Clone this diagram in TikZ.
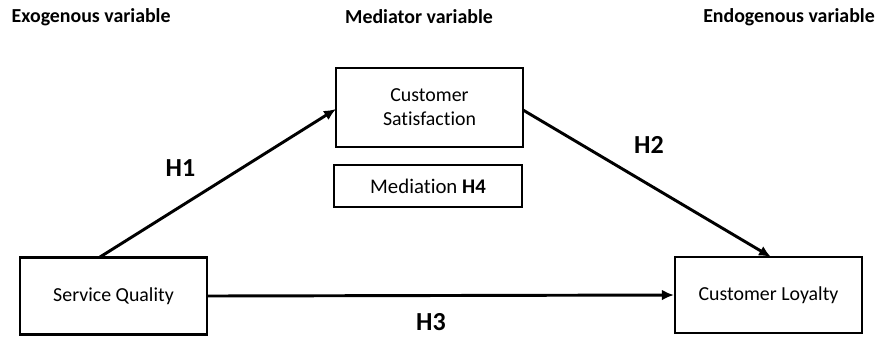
\documentclass[tikz,border=0pt]{standalone}
\usepackage{fontspec}
\setmainfont[Ligatures={NoCommon}]{Carlito}
\usetikzlibrary{arrows.meta}
\begin{document}
\begin{tikzpicture}[x=0.75pt,y=-0.75pt,
  box/.style={draw, line width=1.6pt, inner sep=0pt, font=\fontsize{14.9}{18}\selectfont, align=center},
  head/.style={font=\bfseries\fontsize{14.9}{17}\selectfont},
  hyp/.style={font=\bfseries\fontsize{19.5}{22}\selectfont},
  arr/.style={line width=2.2pt, -{Latex[length=9pt,width=8pt]}}]
\useasboundingbox (0,0) rectangle (877,337);
\node[box, minimum width=187*0.75pt, minimum height=77*0.75pt] (sq) at (113.5,296) {Service Quality};
\node[box, minimum width=187*0.75pt, minimum height=76*0.75pt] (cl) at (768.5,295) {Customer Loyalty};
\node[box, minimum width=187*0.75pt, minimum height=79*0.75pt] (cs) at (429.5,107.5) {Customer\\Satisfaction};
\node[box, minimum width=188*0.75pt, minimum height=42*0.75pt, font=\fontsize{15.6}{18}\selectfont] (med) at (428,186) {Mediation \textbf{H4}};
\node[head, anchor=west] (h-exo) at (7,17) {Exogenous variable};
\node[head] (h-med) at (419,17) {Mediator variable};
\node[head] (h-endo) at (789,17) {Endogenous variable};
\coordinate (a1) at (100,257);
\coordinate (b1) at (336,109);
\coordinate (a2) at (523,110);
\coordinate (b2) at (771,257);
\draw[arr] (a1) -- (b1);
\draw[arr] (a2) -- (b2);
\draw[arr] (sq.east) -- (cl.west);
\node[hyp] (h1) at (180.5,168) {H1};
\node[hyp] (h2) at (649,145) {H2};
\node[hyp] (h3) at (431,322) {H3};
\end{tikzpicture}
\end{document}
